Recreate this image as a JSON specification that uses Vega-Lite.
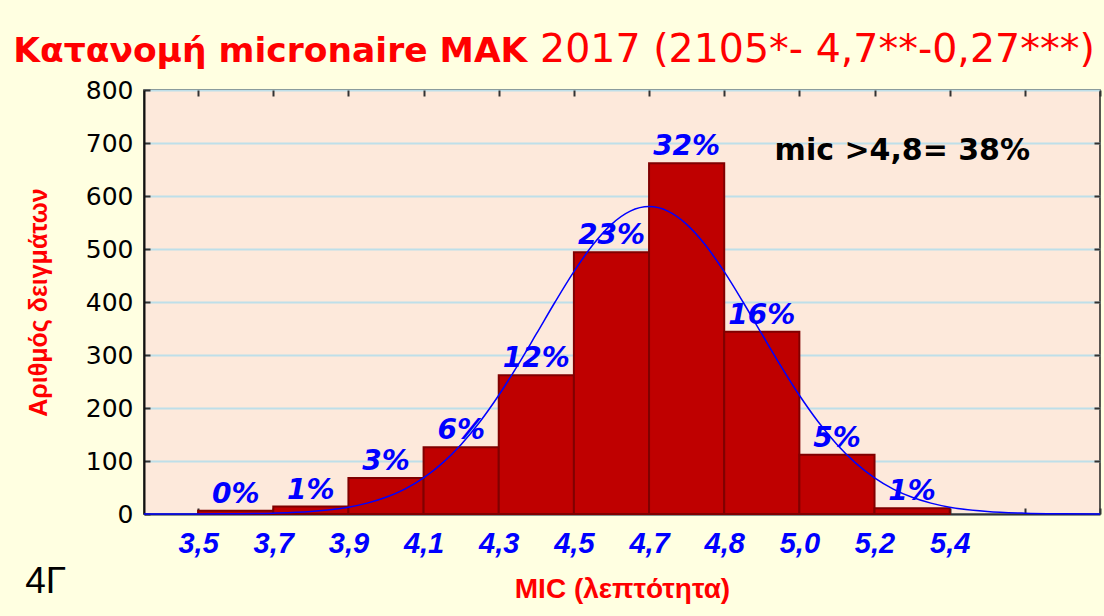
{
  "$schema": "https://vega.github.io/schema/vega-lite/v6.json",
  "autosize": {"type": "none"},
  "width": 956,
  "height": 424,
  "padding": {"left": 144, "top": 90, "right": 4, "bottom": 102},
  "background": "#FFFFE1",
  "config": {"view": {"fill": "#FDE9DB", "stroke": "#222222", "strokeWidth": 1.5}},
  "datasets": {
    "bars": [
      {"bin_start": 0, "bin_end": 1, "count": 6, "pct": "0%"},
      {"bin_start": 1, "bin_end": 2, "count": 14, "pct": "1%"},
      {"bin_start": 2, "bin_end": 3, "count": 68, "pct": "3%"},
      {"bin_start": 3, "bin_end": 4, "count": 126, "pct": "6%"},
      {"bin_start": 4, "bin_end": 5, "count": 262, "pct": "12%"},
      {"bin_start": 5, "bin_end": 6, "count": 494, "pct": "23%"},
      {"bin_start": 6, "bin_end": 7, "count": 662, "pct": "32%"},
      {"bin_start": 7, "bin_end": 8, "count": 344, "pct": "16%"},
      {"bin_start": 8, "bin_end": 9, "count": 112, "pct": "5%"},
      {"bin_start": 9, "bin_end": 10, "count": 11, "pct": "1%"}
    ],
    "curve": [
      {"k": -0.72, "v": 0.01}, {"k": -0.5, "v": 0.03}, {"k": 0, "v": 0.11}, {"k": 0.5, "v": 0.44},
      {"k": 1.0, "v": 1.5}, {"k": 1.5, "v": 4.7}, {"k": 2.0, "v": 12.9}, {"k": 2.25, "v": 20.5},
      {"k": 2.5, "v": 31.5}, {"k": 2.75, "v": 47.0}, {"k": 3.0, "v": 68.2}, {"k": 3.25, "v": 96.0},
      {"k": 3.5, "v": 131.2}, {"k": 3.75, "v": 174.0}, {"k": 4.0, "v": 224.0}, {"k": 4.25, "v": 280.0},
      {"k": 4.5, "v": 339.7}, {"k": 4.75, "v": 400.0}, {"k": 5.0, "v": 457.2}, {"k": 5.25, "v": 507.4},
      {"k": 5.5, "v": 546.5}, {"k": 5.75, "v": 571.4}, {"k": 6.0, "v": 580.0}, {"k": 6.25, "v": 571.4},
      {"k": 6.5, "v": 546.5}, {"k": 6.75, "v": 507.4}, {"k": 7.0, "v": 457.2}, {"k": 7.25, "v": 400.0},
      {"k": 7.5, "v": 339.7}, {"k": 7.75, "v": 280.0}, {"k": 8.0, "v": 224.0}, {"k": 8.25, "v": 174.0},
      {"k": 8.5, "v": 131.2}, {"k": 8.75, "v": 96.0}, {"k": 9.0, "v": 68.2}, {"k": 9.25, "v": 47.0},
      {"k": 9.5, "v": 31.5}, {"k": 9.75, "v": 20.5}, {"k": 10.0, "v": 12.9}, {"k": 10.5, "v": 4.7},
      {"k": 11.0, "v": 1.5}, {"k": 11.5, "v": 0.44}, {"k": 12.0, "v": 0.11}
    ],
    "one": [{"note": 1}]
  },
  "layer": [
    {
      "data": {"name": "bars"},
      "mark": {"type": "rect", "fill": "#BF0000", "stroke": "#800000", "strokeWidth": 2},
      "encoding": {
        "x": {
          "field": "bin_start", "type": "quantitative",
          "scale": {"domain": [-0.72, 12], "nice": false, "zero": false},
          "axis": {
            "orient": "bottom",
            "values": [0, 1, 2, 3, 4, 5, 6, 7, 8, 9, 10, 11, 12],
            "labelExpr": "datum.value < 11 ? ['3,5','3,7','3,9','4,1','4,3','4,5','4,7','4,8','5,0','5,2','5,4'][datum.value] : ''",
            "grid": false,
            "domainColor": "#333333", "domainWidth": 2,
            "ticks": true, "tickSize": -6, "tickColor": "#333333", "tickWidth": 2,
            "labelFont": "Liberation Sans", "labelFontWeight": "bold", "labelFontStyle": "italic",
            "labelFontSize": 29, "labelColor": "#0000FF", "labelPadding": 21,
            "labelFlush": false, "labelOverlap": false,
            "title": "MIC (λεπτότητα)", "titleFont": "Liberation Sans", "titleFontSize": 28,
            "titleFontWeight": "bold", "titleColor": "#FF0000", "titlePadding": 17
          }
        },
        "x2": {"field": "bin_end"},
        "y": {
          "field": "count", "type": "quantitative",
          "scale": {"domain": [0, 800], "nice": false},
          "axis": {
            "values": [0, 100, 200, 300, 400, 500, 600, 700, 800],
            "grid": true, "gridColor": "#BEDFE9", "gridWidth": 2,
            "domainColor": "#111111", "domainWidth": 2,
            "ticks": true, "tickSize": -6, "tickColor": "#333333", "tickWidth": 2,
            "labelFont": "DejaVu Sans", "labelFontSize": 25, "labelColor": "#000000", "labelPadding": 17,
            "title": "Αριθμός δειγμάτων", "titleFont": "Liberation Sans", "titleFontWeight": "bold",
            "titleFontSize": 25, "titleColor": "#FF0000", "titlePadding": 34
          }
        }
      }
    },
    {
      "data": {"name": "curve"},
      "mark": {"type": "line", "color": "#0000FF", "strokeWidth": 1.5, "interpolate": "monotone"},
      "encoding": {
        "x": {
          "field": "k", "type": "quantitative",
          "scale": {"domain": [-0.72, 12], "nice": false, "zero": false},
          "axis": {"orient": "top", "values": [0, 1, 2, 3, 4, 5, 6, 7, 8, 9, 10, 11, 12], "labels": false,
                   "grid": false, "domain": false, "tickSize": -6, "tickColor": "#333333", "tickWidth": 2, "title": null}
        },
        "y": {
          "field": "v", "type": "quantitative",
          "scale": {"domain": [0, 800], "nice": false},
          "axis": {"orient": "right", "values": [100, 200, 300, 400, 500, 600, 700], "labels": false,
                   "grid": false, "domain": false, "tickSize": -6, "tickColor": "#333333", "tickWidth": 2, "title": null}
        }
      }
    },
    {
      "data": {"name": "bars"},
      "mark": {"type": "text", "font": "DejaVu Sans", "fontWeight": "bold", "fontStyle": "italic",
               "fontSize": 28, "color": "#0000FF", "align": "center", "baseline": "alphabetic", "dx": 37.6, "dy": -8},
      "encoding": {
        "x": {"field": "bin_start", "type": "quantitative", "scale": {"domain": [-0.72, 12], "nice": false, "zero": false}, "axis": null},
        "y": {"field": "count", "type": "quantitative", "scale": {"domain": [0, 800], "nice": false}, "axis": null},
        "text": {"field": "pct"}
      }
    },
    {
      "data": {"name": "one"},
      "mark": {"type": "text", "text": "mic >4,8= 38%", "font": "DejaVu Sans", "fontWeight": "bold",
               "fontSize": 30, "color": "#000000", "align": "center", "baseline": "alphabetic"},
      "encoding": {
        "x": {"datum": 9.37, "type": "quantitative", "scale": {"domain": [-0.72, 12], "nice": false, "zero": false}, "axis": null},
        "y": {"datum": 668, "type": "quantitative", "scale": {"domain": [0, 800], "nice": false}, "axis": null}
      }
    },
    {
      "data": {"name": "one"},
      "mark": {"type": "text", "text": "Κατανομή micronaire MAK", "font": "DejaVu Sans", "fontWeight": "bold",
               "fontSize": 34.5, "color": "#FF0000", "align": "left", "baseline": "alphabetic"},
      "encoding": {
        "x": {"datum": -2.46, "type": "quantitative", "scale": {"domain": [-0.72, 12], "nice": false, "zero": false}, "axis": null},
        "y": {"datum": 853, "type": "quantitative", "scale": {"domain": [0, 800], "nice": false}, "axis": null}
      }
    },
    {
      "data": {"name": "one"},
      "mark": {"type": "text", "text": "2017 (2105*- 4,7**-0,27***)", "font": "DejaVu Sans",
               "fontSize": 39.5, "color": "#FF0000", "align": "left", "baseline": "alphabetic"},
      "encoding": {
        "x": {"datum": 4.55, "type": "quantitative", "scale": {"domain": [-0.72, 12], "nice": false, "zero": false}, "axis": null},
        "y": {"datum": 853, "type": "quantitative", "scale": {"domain": [0, 800], "nice": false}, "axis": null}
      }
    },
    {
      "data": {"name": "one"},
      "mark": {"type": "text", "text": "4Γ", "font": "Liberation Sans",
               "fontSize": 37, "color": "#000000", "align": "left", "baseline": "alphabetic"},
      "encoding": {
        "x": {"datum": -2.3, "type": "quantitative", "scale": {"domain": [-0.72, 12], "nice": false, "zero": false}, "axis": null},
        "y": {"datum": -149, "type": "quantitative", "scale": {"domain": [0, 800], "nice": false}, "axis": null}
      }
    }
  ],
  "resolve": {"axis": {"x": "independent", "y": "independent"}}
}
